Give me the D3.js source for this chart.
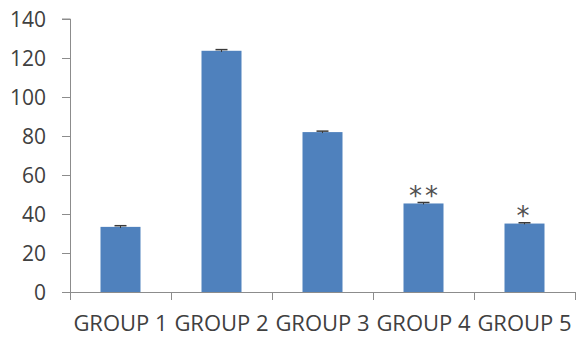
<!DOCTYPE html>
<html>
<head>
<meta charset="utf-8">
<script src="https://cdn.jsdelivr.net/npm/d3@7"></script>
<style>
  body { margin: 0; background: #fff; overflow: hidden; }
  svg { display: block; }
  text { font-family: "Open Sans", sans-serif; fill: #404040; }
</style>
</head>
<body>
<div id="chart"></div>
<script>
// Data
const groups = ["GROUP 1", "GROUP 2", "GROUP 3", "GROUP 4", "GROUP 5"];
const means = [33.4, 123.7, 82.0, 45.4, 35.1];
const errors = [0.6, 0.6, 0.5, 0.5, 0.4];
const marks = ["", "", "", "**", "*"];
const yTicks = [0, 20, 40, 60, 80, 100, 120, 140];

const width = 576, height = 339;
const margin = { top: 19, right: 1, bottom: 47, left: 70 };
const innerWidth = width - margin.left - margin.right;
const innerHeight = height - margin.top - margin.bottom;

const svg = d3.select("#chart").append("svg")
  .attr("width", width)
  .attr("height", height);

const g = svg.append("g")
  .attr("transform", `translate(${margin.left},${margin.top})`);

const x = d3.scaleBand().domain(groups).range([0, innerWidth]);
const y = d3.scaleLinear().domain([0, 140]).range([innerHeight, 0]);
const barW = 40;
const cx = i => x(groups[i]) + x.bandwidth() / 2;

// bars
g.selectAll(".bar").data(means).join("rect")
  .attr("class", "bar")
  .attr("x", (d, i) => cx(i) - barW / 2)
  .attr("width", barW)
  .attr("y", d => y(d))
  .attr("height", d => y(0) - y(d))
  .attr("fill", "#4f81bd");

// error bars (tiny)
g.selectAll(".err").data(means).join("line")
  .attr("class", "err")
  .attr("x1", (d, i) => cx(i)).attr("x2", (d, i) => cx(i))
  .attr("y1", (d, i) => y(d - errors[i])).attr("y2", (d, i) => y(d + errors[i]))
  .attr("stroke", "#3a3a3a").attr("stroke-width", 1);
g.selectAll(".cap").data(means).join("line")
  .attr("class", "cap")
  .attr("x1", (d, i) => cx(i) - 6).attr("x2", (d, i) => cx(i) + 6)
  .attr("y1", (d, i) => y(d + errors[i])).attr("y2", (d, i) => y(d + errors[i]))
  .attr("stroke", "#3a3a3a").attr("stroke-width", 1.5);

// significance stars (only where marked)
const starred = means.map((d, i) => ({ i, d })).filter(o => marks[o.i]);
g.selectAll(".star").data(starred).join("text")
  .attr("class", "star")
  .attr("x", o => cx(o.i) + (marks[o.i].length > 1 ? 1.5 : 0))
  .attr("y", o => y(o.d + errors[o.i]) - 12)
  .attr("dy", "0.55em")
  .attr("text-anchor", "middle")
  .style("font-family", "DejaVu Sans, sans-serif")
  .style("font-size", "26px")
  .style("letter-spacing", "3px")
  .style("fill", "#505050")
  .text(o => marks[o.i]);

// y axis
const yAxis = g.append("g")
  .call(d3.axisLeft(y).tickValues(yTicks).tickSize(8).tickPadding(16));
yAxis.selectAll("line, path").attr("stroke", "#8c8c8c");
yAxis.select(".domain").attr("d", `M-8,${y(140)}H0.5V${y(0)}`);
yAxis.selectAll("text").style("font-size", "21px").style("fill", "#404040").attr("dy", "0.36em");

// x axis: labels centred in bands, ticks at band edges
const xAxis = g.append("g").attr("transform", `translate(0,${innerHeight})`)
  .call(d3.axisBottom(x).tickSize(0).tickPadding(23));
xAxis.select(".domain").attr("stroke", "#8c8c8c").attr("d", `M0,0.5H${innerWidth}`);
xAxis.selectAll("text").style("font-size", "22px").style("fill", "#404040");
xAxis.selectAll(".edge").data(d3.range(groups.length + 1)).join("line")
  .attr("class", "edge")
  .attr("x1", i => i * x.step() + 0.5).attr("x2", i => i * x.step() + 0.5)
  .attr("y1", 0).attr("y2", 8)
  .attr("stroke", "#8c8c8c");
</script>
</body>
</html>
